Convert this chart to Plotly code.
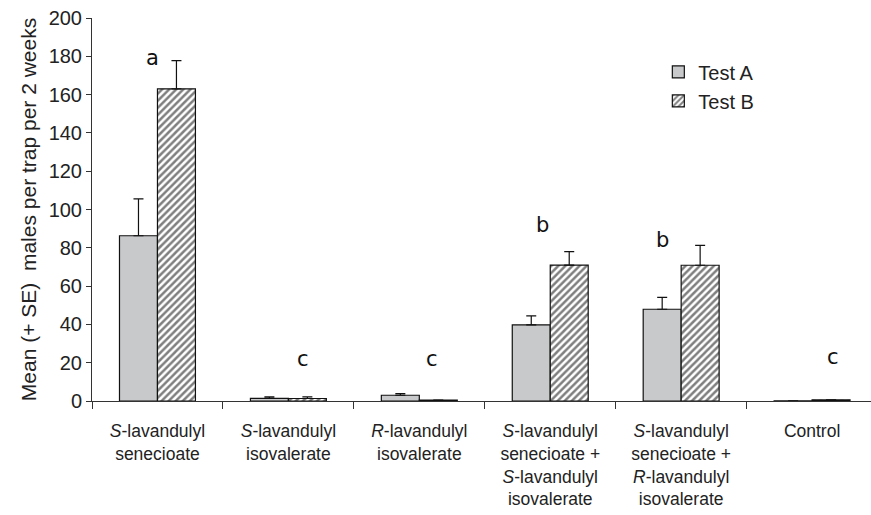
import plotly.graph_objects as go

categories = [
    "<i>S</i>-lavandulyl<br>senecioate",
    "<i>S</i>-lavandulyl<br>isovalerate",
    "<i>R</i>-lavandulyl<br>isovalerate",
    "<i>S</i>-lavandulyl<br>senecioate +<br><i>S</i>-lavandulyl<br>isovalerate",
    "<i>S</i>-lavandulyl<br>senecioate +<br><i>R</i>-lavandulyl<br>isovalerate",
    "Control",
]
test_a = [86.3, 1.4, 3.0, 39.7, 47.9, 0.1]
test_a_se = [19.3, 0.8, 0.8, 4.8, 6.2, 0.0]
test_b = [163.0, 1.3, 0.5, 71.0, 70.9, 0.6]
test_b_se = [14.7, 0.9, 0.0, 7.0, 10.4, 0.0]

letters = ["a", "c", "c", "b", "b", "c"]
letter_x = [-0.04, 1.11, 2.10, 2.94, 3.86, 5.16]
letter_y = [179, 22, 22, 92, 84, 23]

fig = go.Figure()
fig.add_trace(go.Bar(
    name="Test A", x=categories, y=test_a,
    marker=dict(color="#c8c9cb", line=dict(color="#111", width=1.2)),
    error_y=dict(type="data", array=test_a_se, arrayminus=[0]*6, symmetric=False,
                 color="#111", thickness=1.2, width=5),
))
fig.add_trace(go.Bar(
    name="Test B", x=categories, y=test_b,
    marker=dict(color="white", line=dict(color="#111", width=1.2),
                pattern=dict(shape="/", fgcolor="#000", bgcolor="white", size=5, solidity=0.5)),
    error_y=dict(type="data", array=test_b_se, arrayminus=[0]*6, symmetric=False,
                 color="#111", thickness=1.2, width=5),
))

for t, lx, ly in zip(letters, letter_x, letter_y):
    fig.add_annotation(x=lx, y=ly, text=t, showarrow=False,
                       font=dict(family="DejaVu Sans", size=21, color="#111"))

fig.update_layout(
    width=871, height=515,
    margin=dict(l=92, r=0, t=18, b=114),
    paper_bgcolor="white", plot_bgcolor="white",
    barmode="group", bargap=0.42, bargroupgap=0,
    font=dict(family="Liberation Sans, Arial", size=17, color="#222"),
    showlegend=True,
    legend=dict(x=0.727, y=0.91, xanchor="left", yanchor="top",
                bgcolor="rgba(0,0,0,0)", font=dict(size=20), tracegroupgap=0,
                itemwidth=30),
    xaxis=dict(
        type="category", range=[-0.5, 5.45],
        showline=True, linecolor="#333", linewidth=1,
        ticks="outside", ticklen=7, tickcolor="#333", tickson="boundaries",
        showgrid=False, tickfont=dict(size=17.5), ticklabelstandoff=14,
    ),
    yaxis=dict(
        range=[0, 200], tickvals=list(range(0, 201, 20)),
        showline=True, linecolor="#333", linewidth=1,
        ticks="outside", ticklen=5, tickcolor="#333",
        showgrid=False, zeroline=False, tickfont=dict(size=20),
        title=dict(text="Mean (+ SE)  males per trap per 2 weeks", font=dict(size=21), standoff=6),
    ),
)

fig.write_html("out.html")
